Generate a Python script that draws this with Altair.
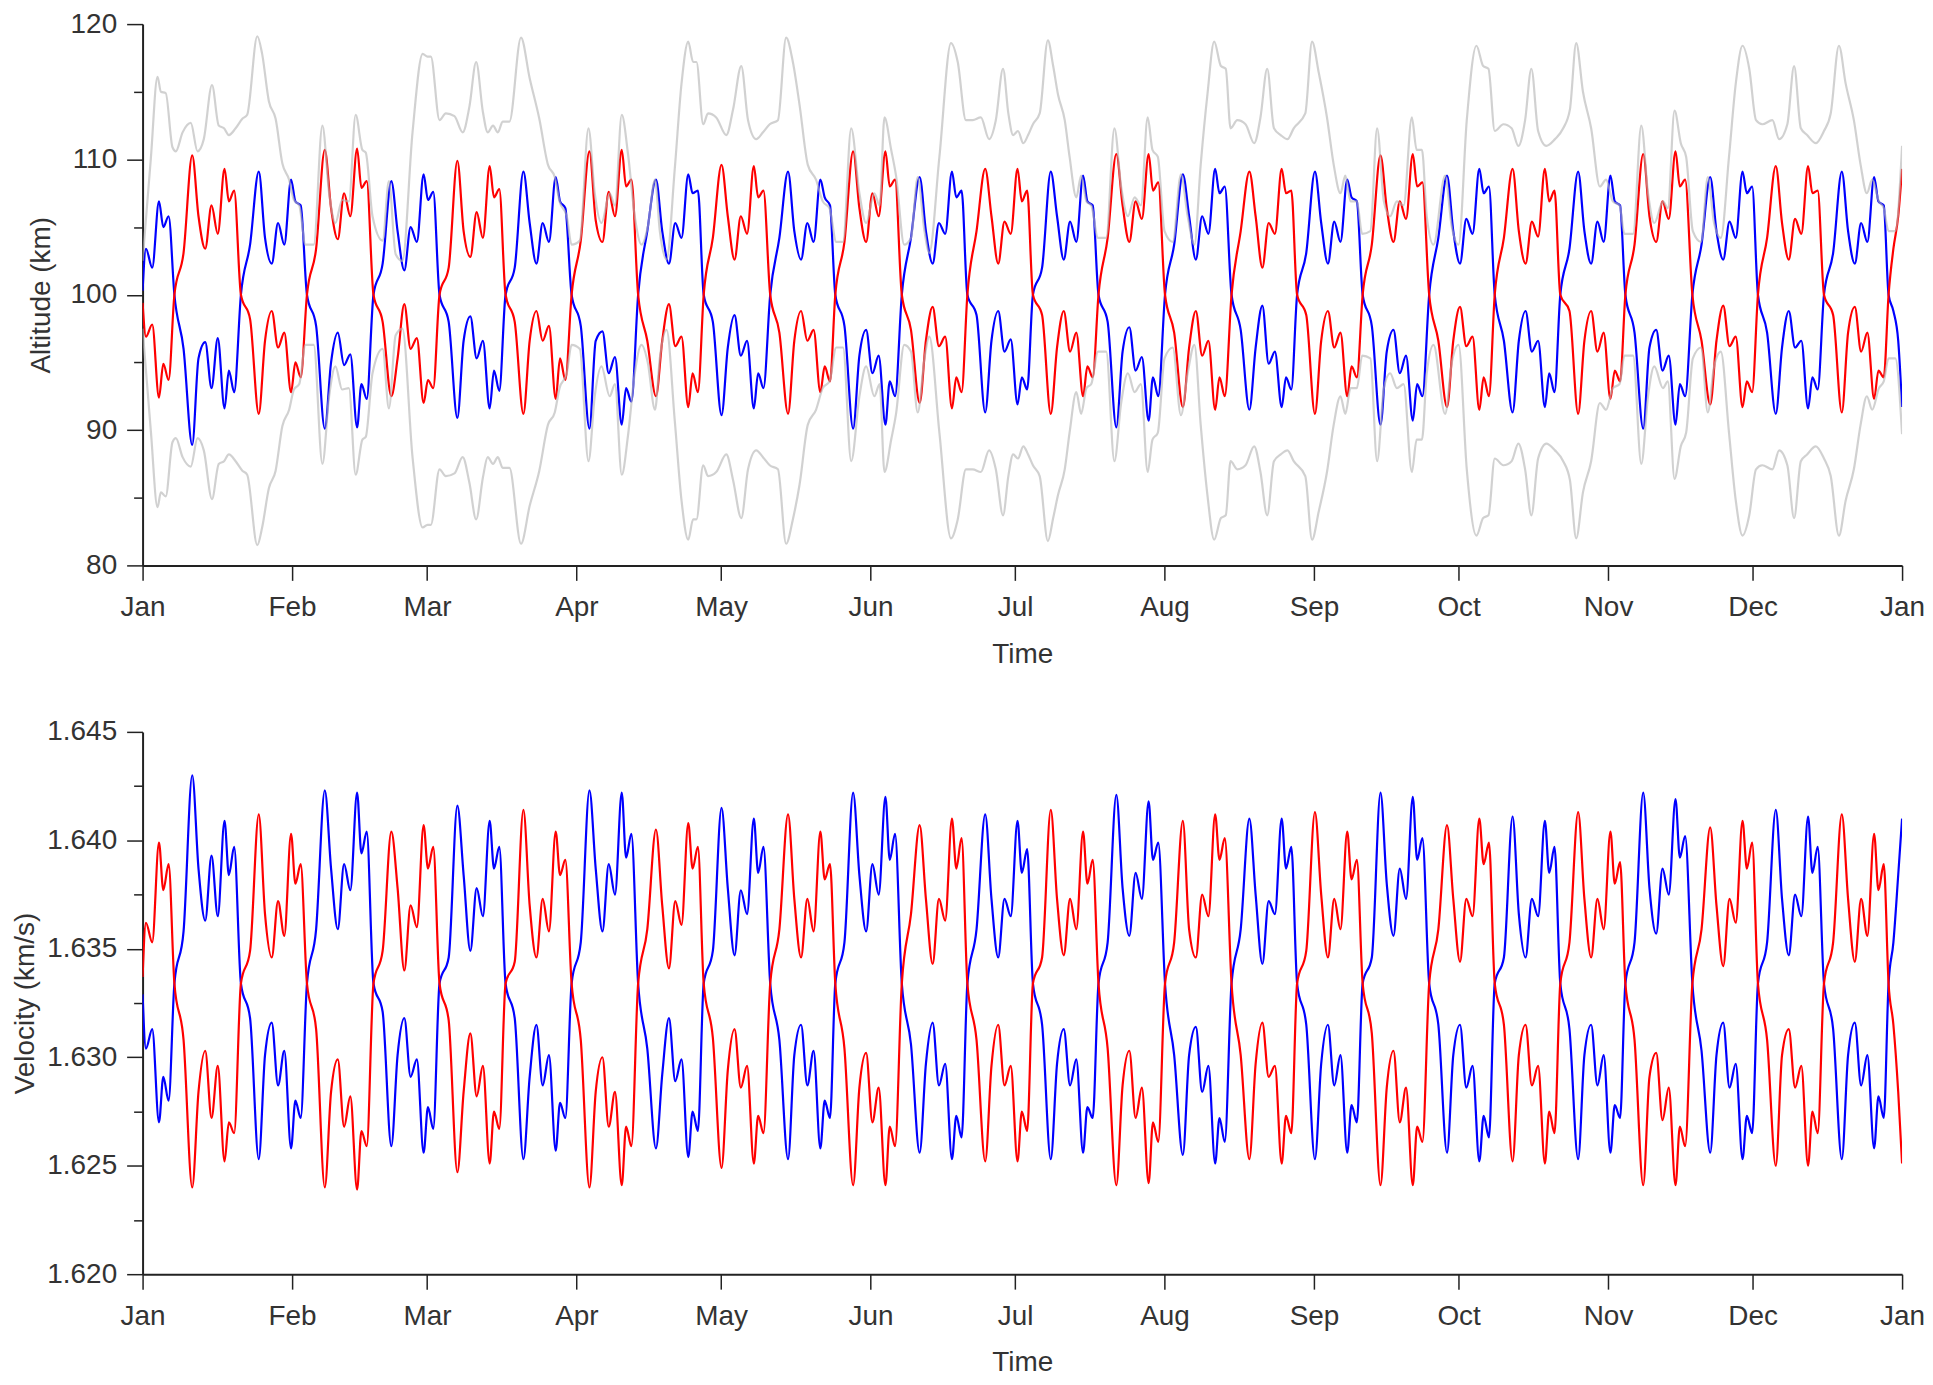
import altair as alt
import pandas as pd

# ---------------- data ----------------
# days (from 1 Jan) where the blue and red curves cross
CROSS_DAYS = [6.6, 20.4, 34.1, 47.9, 61.6, 75.3, 89.0, 102.8, 116.4, 130.2, 143.7,
              157.5, 171.1, 184.7, 198.3, 212.1, 225.9, 239.5, 253.1, 266.9, 280.5,
              294.1, 307.6, 321.5, 335.1, 348.8, 362.2]
# days after each crossing at which the wiggle extremes were read
SEG_OFFSETS = [1.9, 3.7, 5.0, 6.4, 7.7, 9.0, 10.4, 11.3, 12.4]
CROSS_ALT = 100.0
CROSS_VEL = 1.6334
PRE_DAYS = [0.0, 0.7, 2.0, 3.4, 4.3, 5.4]
END_DAYS = [363.2, 364.2, 365.0]

ALT_BLUE_PRE = [100.3, 103.4, 102.0, 106.9, 105.0, 105.8]
ALT_RED_PRE = [99.4, 96.9, 97.8, 92.4, 94.9, 93.7]
ALT_BLUE_END = [98.8, 96.6, 91.7]
ALT_RED_END = [103.4, 105.8, 109.3]

ALT_BLUE_SEG = [
    [96.0, 88.9, 95.3, 96.5, 93.1, 96.8, 91.6, 94.4, 92.8],
    [103.7, 109.1, 104.2, 102.3, 105.3, 103.7, 108.5, 106.9, 106.6],
    [97.7, 90.1, 95.0, 97.2, 94.8, 95.6, 90.2, 93.4, 92.3],
    [102.3, 108.4, 104.7, 101.8, 105.0, 103.9, 108.9, 107.0, 107.6],
    [98.0, 90.9, 96.6, 98.4, 95.3, 96.6, 91.6, 94.4, 92.9],
    [102.0, 109.1, 105.3, 102.3, 105.3, 103.9, 108.7, 106.9, 106.4],
    [97.7, 90.1, 96.6, 97.3, 94.2, 95.4, 90.4, 93.1, 92.1],
    [104.7, 108.5, 104.7, 102.3, 105.3, 104.2, 108.9, 107.5, 107.7],
    [98.0, 91.1, 96.1, 98.5, 95.5, 96.6, 91.6, 94.2, 93.1],
    [104.2, 109.1, 104.7, 102.6, 105.3, 103.9, 108.5, 107.2, 106.6],
    [97.7, 90.1, 95.5, 97.4, 94.2, 95.5, 90.4, 93.6, 92.5],
    [104.2, 108.7, 104.7, 102.3, 105.3, 104.5, 109.1, 107.2, 107.7],
    [98.5, 91.3, 96.6, 98.8, 95.8, 96.7, 91.9, 93.9, 93.0],
    [102.0, 109.1, 105.8, 102.6, 105.4, 103.9, 108.8, 106.9, 106.6],
    [98.0, 90.2, 95.8, 97.6, 94.4, 95.4, 90.7, 93.9, 92.5],
    [103.7, 108.9, 105.8, 102.6, 105.8, 104.5, 109.3, 107.5, 108.0],
    [97.4, 91.5, 96.1, 99.2, 94.9, 95.8, 91.7, 93.9, 93.0],
    [103.1, 109.1, 105.3, 102.3, 105.4, 103.9, 108.5, 107.2, 106.9],
    [97.7, 90.4, 95.8, 97.4, 94.2, 95.5, 90.7, 93.4, 92.5],
    [104.2, 108.8, 104.7, 102.3, 105.6, 104.5, 109.3, 107.5, 108.0],
    [96.6, 91.3, 96.6, 98.8, 95.8, 96.6, 91.7, 94.2, 92.8],
    [103.4, 109.1, 104.7, 102.3, 105.4, 103.9, 108.8, 106.9, 106.6],
    [97.2, 90.1, 96.1, 97.4, 94.4, 95.5, 90.4, 93.4, 92.5],
    [103.7, 108.7, 104.7, 102.6, 105.4, 104.2, 109.1, 107.5, 108.0],
    [97.2, 91.2, 96.1, 98.8, 96.1, 96.6, 91.6, 93.9, 93.0],
    [103.1, 109.1, 104.7, 102.3, 105.3, 103.9, 108.7, 106.9, 106.6],
]

ALT_RED_SEG = [
    [103.1, 110.3, 105.8, 103.4, 106.6, 104.5, 109.3, 106.9, 107.7],
    [98.2, 91.2, 96.6, 98.8, 96.1, 97.2, 92.8, 95.0, 93.9],
    [103.4, 110.7, 106.4, 104.1, 107.5, 105.8, 110.8, 107.9, 108.4],
    [98.0, 92.5, 95.3, 99.3, 96.0, 96.8, 92.0, 93.7, 93.1],
    [102.0, 109.9, 104.7, 102.8, 106.1, 104.2, 109.5, 107.2, 107.8],
    [98.0, 91.2, 96.6, 98.8, 96.6, 97.7, 92.3, 95.3, 93.7],
    [104.0, 110.6, 105.5, 103.9, 107.6, 105.8, 110.7, 108.0, 108.5],
    [96.6, 92.5, 96.6, 99.3, 96.2, 96.9, 91.7, 94.2, 92.8],
    [104.2, 109.6, 105.8, 102.6, 105.8, 104.5, 109.5, 107.2, 107.7],
    [97.2, 91.2, 96.6, 98.8, 96.6, 97.4, 92.8, 94.7, 93.6],
    [103.9, 110.6, 106.4, 103.9, 107.5, 105.8, 110.6, 108.0, 108.5],
    [97.4, 92.0, 96.6, 99.1, 96.2, 96.9, 91.6, 93.9, 92.8],
    [104.7, 109.3, 105.8, 102.3, 105.4, 104.5, 109.3, 106.9, 107.7],
    [98.5, 91.2, 96.1, 98.8, 95.8, 97.2, 92.5, 94.7, 93.9],
    [104.2, 110.4, 106.6, 103.9, 106.9, 105.6, 110.4, 107.7, 108.3],
    [97.2, 91.7, 96.1, 98.8, 95.5, 96.6, 91.5, 93.9, 92.5],
    [104.7, 109.1, 105.8, 102.0, 105.3, 104.5, 109.3, 107.5, 107.7],
    [98.5, 91.2, 96.6, 98.8, 96.1, 97.2, 92.5, 94.7, 93.9],
    [103.7, 110.3, 106.4, 103.9, 106.9, 105.6, 110.4, 108.0, 108.3],
    [96.6, 91.7, 96.6, 99.1, 96.2, 96.9, 91.5, 93.9, 92.5],
    [104.2, 109.3, 104.7, 102.3, 105.4, 104.3, 109.3, 106.9, 107.7],
    [98.8, 91.2, 96.6, 98.8, 95.8, 97.2, 92.3, 94.4, 93.6],
    [103.7, 110.4, 105.8, 103.9, 106.9, 105.6, 110.6, 108.0, 108.5],
    [96.6, 91.9, 96.6, 99.2, 96.2, 96.9, 91.7, 93.6, 92.8],
    [104.2, 109.5, 105.3, 102.6, 105.6, 104.5, 109.5, 107.5, 107.7],
    [98.5, 91.3, 97.2, 99.1, 95.8, 97.2, 92.3, 94.4, 93.9],
]

VEL_BLUE_PRE = [1.6329, 1.6304, 1.6313, 1.6270, 1.6291, 1.6280]
VEL_RED_PRE = [1.6337, 1.6362, 1.6353, 1.6399, 1.6377, 1.6389]
VEL_BLUE_END = [1.6353, 1.6384, 1.6410]
VEL_RED_END = [1.6315, 1.6284, 1.6251]

VEL_BLUE_SEG = [
    [1.6358, 1.6430, 1.6387, 1.6363, 1.6393, 1.6365, 1.6409, 1.6384, 1.6397],
    [1.6318, 1.6253, 1.6301, 1.6316, 1.6287, 1.6303, 1.6258, 1.6280, 1.6272],
    [1.6359, 1.6423, 1.6387, 1.6359, 1.6389, 1.6377, 1.6422, 1.6394, 1.6404],
    [1.6321, 1.6259, 1.6301, 1.6318, 1.6291, 1.6299, 1.6256, 1.6277, 1.6267],
    [1.6346, 1.6416, 1.6384, 1.6349, 1.6378, 1.6365, 1.6409, 1.6387, 1.6397],
    [1.6318, 1.6253, 1.6291, 1.6315, 1.6287, 1.6301, 1.6257, 1.6279, 1.6272],
    [1.6353, 1.6423, 1.6387, 1.6358, 1.6389, 1.6375, 1.6422, 1.6392, 1.6403],
    [1.6304, 1.6258, 1.6292, 1.6318, 1.6289, 1.6299, 1.6254, 1.6275, 1.6266],
    [1.6349, 1.6415, 1.6378, 1.6347, 1.6377, 1.6366, 1.6410, 1.6385, 1.6397],
    [1.6308, 1.6253, 1.6301, 1.6315, 1.6287, 1.6303, 1.6258, 1.6280, 1.6272],
    [1.6353, 1.6422, 1.6384, 1.6358, 1.6389, 1.6375, 1.6420, 1.6391, 1.6403],
    [1.6306, 1.6256, 1.6297, 1.6316, 1.6287, 1.6297, 1.6253, 1.6273, 1.6263],
    [1.6359, 1.6412, 1.6373, 1.6346, 1.6373, 1.6365, 1.6409, 1.6385, 1.6396],
    [1.6315, 1.6253, 1.6297, 1.6313, 1.6287, 1.6299, 1.6256, 1.6277, 1.6272],
    [1.6353, 1.6421, 1.6378, 1.6356, 1.6385, 1.6373, 1.6418, 1.6391, 1.6399],
    [1.6301, 1.6255, 1.6301, 1.6314, 1.6284, 1.6296, 1.6251, 1.6272, 1.6261],
    [1.6359, 1.6410, 1.6375, 1.6343, 1.6372, 1.6366, 1.6410, 1.6387, 1.6397],
    [1.6315, 1.6253, 1.6297, 1.6315, 1.6287, 1.6301, 1.6256, 1.6278, 1.6270],
    [1.6346, 1.6422, 1.6380, 1.6356, 1.6387, 1.6373, 1.6420, 1.6391, 1.6401],
    [1.6315, 1.6256, 1.6301, 1.6315, 1.6286, 1.6296, 1.6252, 1.6273, 1.6263],
    [1.6346, 1.6411, 1.6366, 1.6346, 1.6373, 1.6365, 1.6409, 1.6385, 1.6397],
    [1.6313, 1.6253, 1.6301, 1.6315, 1.6287, 1.6301, 1.6256, 1.6278, 1.6272],
    [1.6353, 1.6422, 1.6378, 1.6357, 1.6387, 1.6375, 1.6419, 1.6392, 1.6402],
    [1.6303, 1.6256, 1.6301, 1.6316, 1.6286, 1.6297, 1.6253, 1.6273, 1.6265],
    [1.6353, 1.6414, 1.6373, 1.6347, 1.6375, 1.6365, 1.6411, 1.6385, 1.6397],
    [1.6313, 1.6253, 1.6301, 1.6316, 1.6287, 1.6301, 1.6258, 1.6282, 1.6272],
]

VEL_RED_SEG = [
    [1.6308, 1.6240, 1.6284, 1.6303, 1.6272, 1.6296, 1.6252, 1.6270, 1.6265],
    [1.6349, 1.6412, 1.6366, 1.6346, 1.6372, 1.6356, 1.6403, 1.6380, 1.6389],
    [1.6313, 1.6240, 1.6284, 1.6299, 1.6268, 1.6282, 1.6239, 1.6266, 1.6259],
    [1.6349, 1.6404, 1.6378, 1.6340, 1.6370, 1.6360, 1.6407, 1.6387, 1.6397],
    [1.6317, 1.6247, 1.6284, 1.6311, 1.6282, 1.6296, 1.6251, 1.6275, 1.6267],
    [1.6344, 1.6414, 1.6370, 1.6346, 1.6373, 1.6358, 1.6404, 1.6384, 1.6391],
    [1.6308, 1.6240, 1.6284, 1.6300, 1.6268, 1.6284, 1.6241, 1.6268, 1.6259],
    [1.6359, 1.6405, 1.6370, 1.6341, 1.6372, 1.6361, 1.6408, 1.6387, 1.6397],
    [1.6309, 1.6249, 1.6294, 1.6313, 1.6286, 1.6296, 1.6251, 1.6273, 1.6265],
    [1.6359, 1.6412, 1.6373, 1.6346, 1.6373, 1.6358, 1.6404, 1.6382, 1.6389],
    [1.6304, 1.6241, 1.6286, 1.6302, 1.6270, 1.6286, 1.6241, 1.6268, 1.6259],
    [1.6366, 1.6407, 1.6373, 1.6343, 1.6373, 1.6363, 1.6410, 1.6387, 1.6401],
    [1.6308, 1.6252, 1.6296, 1.6315, 1.6287, 1.6296, 1.6252, 1.6275, 1.6266],
    [1.6346, 1.6414, 1.6373, 1.6347, 1.6373, 1.6359, 1.6404, 1.6380, 1.6391],
    [1.6304, 1.6241, 1.6287, 1.6303, 1.6272, 1.6286, 1.6242, 1.6270, 1.6261],
    [1.6353, 1.6409, 1.6359, 1.6346, 1.6375, 1.6365, 1.6412, 1.6391, 1.6401],
    [1.6301, 1.6253, 1.6297, 1.6316, 1.6291, 1.6296, 1.6251, 1.6273, 1.6265],
    [1.6349, 1.6413, 1.6375, 1.6346, 1.6373, 1.6359, 1.6404, 1.6382, 1.6391],
    [1.6311, 1.6241, 1.6286, 1.6303, 1.6270, 1.6286, 1.6241, 1.6268, 1.6261],
    [1.6359, 1.6407, 1.6373, 1.6344, 1.6373, 1.6365, 1.6410, 1.6389, 1.6399],
    [1.6315, 1.6252, 1.6301, 1.6315, 1.6287, 1.6296, 1.6251, 1.6275, 1.6265],
    [1.6353, 1.6413, 1.6373, 1.6346, 1.6373, 1.6359, 1.6404, 1.6380, 1.6390],
    [1.6308, 1.6241, 1.6291, 1.6302, 1.6271, 1.6286, 1.6241, 1.6268, 1.6259],
    [1.6359, 1.6406, 1.6370, 1.6342, 1.6373, 1.6362, 1.6409, 1.6387, 1.6399],
    [1.6308, 1.6250, 1.6301, 1.6313, 1.6286, 1.6296, 1.6250, 1.6275, 1.6265],
    [1.6353, 1.6412, 1.6373, 1.6344, 1.6373, 1.6356, 1.6403, 1.6377, 1.6389],
]

# light grey envelope curves (upper and lower), drawn over the coloured ones
GRAY_DAYS = [
    0.0, 1.7, 3.1, 3.8, 4.8, 6.2, 6.9, 8.3, 10.0, 11.4, 12.7, 14.4, 15.8, 16.9, 17.9, 19.3,
    20.7, 21.7, 23.8, 24.8, 26.2, 27.6, 29.0, 30.4, 31.4, 32.5, 33.8, 35.5, 37.3, 38.7, 40.0,
    41.4, 42.8, 44.2, 45.6, 46.3, 47.7, 49.8, 51.1, 52.5, 53.9, 56.0, 58.1, 59.1, 59.8, 61.6,
    62.9, 64.7, 66.4, 67.8, 69.2, 70.6, 71.6, 72.7, 73.7, 74.7, 76.1, 78.5, 80.3, 82.3, 84.1,
    85.5, 86.5, 88.0, 89.0, 90.7, 92.5, 93.8, 95.2, 96.9, 98.0, 99.4, 100.7, 102.1, 103.5,
    104.8, 106.3, 107.3, 108.7, 110.4, 111.8, 113.2, 114.2, 114.9, 116.3, 117.3, 119.0, 121.1,
    122.5, 124.2, 125.6, 127.3, 128.7, 130.1, 131.8, 133.5, 134.9, 136.3, 138.0, 139.7, 141.1,
    142.5, 143.9, 145.3, 147.0, 148.7, 150.1, 151.8, 152.9, 153.9, 155.3, 156.3, 158.0, 159.4,
    160.8, 162.2, 163.2, 165.3, 167.7, 169.1, 170.8, 172.2, 173.9, 175.6, 177.0, 178.5, 179.6,
    180.6, 181.6, 182.7, 183.7, 184.7, 186.1, 187.8, 188.9, 189.9, 191.3, 192.3, 193.7, 194.7,
    195.8, 196.8, 198.2, 199.9, 201.6, 203.0, 204.4, 205.8, 207.1, 208.5, 209.5, 210.6, 212.0,
    213.7, 215.4, 216.8, 218.2, 219.5, 220.9, 222.3, 223.7, 224.7, 225.7, 227.1, 228.8, 230.6,
    231.9, 233.3, 234.7, 236.1, 237.5, 238.8, 241.2, 242.6, 244.0, 245.7, 247.1, 248.5, 249.5,
    250.6, 251.9, 253.0, 254.7, 256.1, 257.5, 258.8, 260.2, 261.6, 263.3, 264.3, 265.4, 266.4,
    267.8, 270.2, 271.6, 273.0, 274.7, 276.7, 278.1, 279.2, 280.5, 282.3, 284.0, 285.4, 286.8,
    288.1, 289.5, 291.2, 293.0, 294.7, 296.1, 297.4, 298.8, 300.5, 302.3, 303.6, 305.0, 306.4,
    307.4, 309.2, 310.9, 312.3, 313.6, 315.4, 316.4, 317.8, 319.1, 320.2, 321.6, 323.3, 324.7,
    326.0, 327.4, 329.1, 330.5, 331.9, 333.3, 334.7, 336.0, 338.1, 339.5, 341.2, 342.6, 344.0,
    345.3, 347.1, 348.8, 350.2, 351.9, 353.3, 355.0, 356.4, 357.7, 358.8, 360.2, 361.2, 362.2,
    363.6, 365.0,
]
GRAY_UP = [
    102.5, 110.0, 116.1, 115.0, 114.9, 110.9, 110.6, 112.0, 112.7, 110.6, 111.5, 115.5, 112.5,
    112.3, 111.8, 112.3, 113.0, 113.3, 119.1, 117.8, 114.3, 113.0, 109.7, 108.5, 107.0, 106.6,
    103.7, 103.7, 112.5, 107.5, 105.3, 107.0, 106.9, 113.3, 110.7, 110.5, 105.8, 104.0, 108.4,
    103.0, 102.5, 112.0, 117.8, 117.6, 117.6, 112.9, 113.4, 113.2, 112.0, 113.9, 117.2, 113.5,
    112.0, 112.5, 112.0, 112.8, 112.8, 119.0, 116.0, 113.0, 109.6, 108.7, 106.9, 105.8, 103.7,
    104.0, 112.3, 107.5, 105.3, 107.5, 106.6, 113.3, 110.4, 105.8, 103.7, 105.0, 108.5, 104.7,
    102.6, 109.3, 115.6, 118.7, 117.2, 117.2, 112.6, 113.4, 113.1, 111.8, 113.7, 116.9, 112.9,
    111.5, 112.0, 112.6, 112.9, 119.0, 117.2, 114.0, 109.6, 108.5, 106.9, 106.4, 103.9, 103.9,
    112.3, 107.5, 105.3, 107.5, 106.6, 113.1, 110.7, 108.8, 103.7, 104.2, 108.7, 104.7, 103.1,
    110.2, 118.6, 117.2, 112.9, 112.9, 113.1, 111.5, 112.9, 116.7, 113.4, 111.8, 112.1, 111.2,
    111.8, 112.6, 113.4, 118.8, 116.9, 114.8, 112.9, 110.2, 107.2, 108.8, 106.9, 106.6, 104.2,
    104.2, 112.3, 108.0, 105.8, 107.2, 106.6, 113.1, 110.7, 110.2, 104.7, 103.9, 108.9, 105.8,
    103.7, 109.6, 114.8, 118.7, 116.9, 116.7, 112.3, 112.9, 112.6, 111.2, 113.1, 116.7, 112.3,
    111.8, 111.5, 112.3, 113.4, 118.7, 116.4, 113.1, 109.6, 107.5, 108.8, 106.9, 106.9, 104.5,
    104.7, 112.3, 106.9, 105.8, 106.9, 106.6, 113.1, 110.7, 110.7, 105.8, 103.7, 108.8, 105.0,
    103.7, 112.9, 118.4, 116.9, 116.7, 112.1, 112.6, 112.3, 111.0, 112.9, 116.7, 112.1, 111.0,
    111.5, 112.3, 113.7, 118.6, 115.0, 112.3, 108.0, 108.5, 106.9, 106.6, 104.5, 104.5, 112.5,
    107.5, 105.3, 106.9, 106.4, 113.6, 111.2, 110.2, 104.7, 103.9, 108.7, 105.3, 104.2, 110.2,
    115.6, 118.4, 116.7, 112.9, 112.6, 112.9, 111.5, 112.6, 116.9, 112.3, 111.8, 111.2, 112.1,
    113.4, 118.4, 115.6, 112.9, 109.6, 107.5, 108.5, 106.9, 106.4, 104.7, 104.7, 111.0,
]
GRAY_LO = [
    97.5, 90.0, 84.3, 85.4, 85.1, 89.1, 89.4, 88.0, 87.3, 89.4, 88.5, 84.9, 87.5,
    87.7, 88.2, 87.7, 87.0, 86.7, 81.5, 82.8, 85.7, 87.0, 90.3, 91.5, 93.0, 93.4,
    96.3, 96.3, 87.5, 92.5, 94.7, 93.0, 93.1, 86.7, 89.3, 89.5, 94.2, 96.0, 91.6,
    97.0, 97.5, 88.0, 82.8, 83.0, 83.0, 87.1, 86.6, 86.8, 88.0, 86.1, 83.4, 86.5,
    88.0, 87.5, 88.0, 87.2, 87.2, 81.6, 84.4, 87.0, 90.4, 91.3, 93.1, 94.2, 96.3,
    96.0, 87.7, 92.5, 94.7, 92.5, 93.4, 86.7, 89.6, 94.2, 96.3, 95.0, 91.5, 95.3,
    97.4, 90.7, 84.8, 81.9, 83.4, 83.4, 87.4, 86.6, 86.9, 88.2, 86.3, 83.5, 87.1,
    88.5, 88.0, 87.4, 87.1, 81.6, 83.4, 86.0, 90.4, 91.5, 93.1, 93.6, 96.1, 96.1,
    87.7, 92.5, 94.7, 92.5, 93.4, 86.9, 89.3, 91.2, 96.3, 95.8, 91.3, 95.3, 96.9,
    89.8, 82.0, 83.4, 87.1, 87.1, 86.9, 88.5, 87.1, 83.7, 86.6, 88.2, 87.9, 88.8,
    88.2, 87.4, 86.6, 81.8, 83.5, 85.2, 87.1, 89.8, 92.8, 91.2, 93.1, 93.4, 95.8,
    95.8, 87.7, 92.0, 94.2, 92.8, 93.4, 86.9, 89.3, 89.8, 95.3, 96.1, 91.1, 94.2,
    96.3, 90.4, 85.2, 81.9, 83.5, 83.7, 87.7, 87.1, 87.4, 88.8, 86.9, 83.7, 87.7,
    88.2, 88.5, 87.7, 86.6, 81.9, 84.0, 86.9, 90.4, 92.5, 91.2, 93.1, 93.1, 95.5,
    95.3, 87.7, 93.1, 94.2, 93.1, 93.4, 86.9, 89.3, 89.3, 94.2, 96.3, 91.2, 95.0,
    96.3, 87.1, 82.2, 83.5, 83.7, 87.9, 87.4, 87.7, 89.0, 87.1, 83.7, 87.9, 89.0,
    88.5, 87.7, 86.3, 82.0, 85.4, 87.7, 92.0, 91.5, 93.1, 93.4, 95.5, 95.5, 87.5,
    92.5, 94.7, 93.1, 93.6, 86.4, 88.8, 89.8, 95.3, 96.1, 91.3, 94.7, 95.8, 89.8,
    84.8, 82.2, 83.7, 87.1, 87.4, 87.1, 88.5, 87.4, 83.5, 87.7, 88.2, 88.8, 87.9,
    86.6, 82.2, 84.8, 87.1, 90.4, 92.5, 91.5, 93.1, 93.6, 95.3, 95.3, 89.7,
]

# ---------------- build tables ----------------
BASE = pd.Timestamp("2023-01-01")


def build(pre, segs, end, cross_val):
    days, vals = list(PRE_DAYS), list(pre)
    for k, c in enumerate(CROSS_DAYS):
        days.append(c)
        vals.append(cross_val)
        if k < len(segs):
            for off, v in zip(SEG_OFFSETS, segs[k]):
                days.append(c + off)
                vals.append(v)
    days += END_DAYS
    vals += end
    return pd.DataFrame({"date": BASE + pd.to_timedelta(days, unit="D"), "value": vals})


df_alt_blue = build(ALT_BLUE_PRE, ALT_BLUE_SEG, ALT_BLUE_END, CROSS_ALT)
df_alt_red = build(ALT_RED_PRE, ALT_RED_SEG, ALT_RED_END, CROSS_ALT)
df_vel_blue = build(VEL_BLUE_PRE, VEL_BLUE_SEG, VEL_BLUE_END, CROSS_VEL)
df_vel_red = build(VEL_RED_PRE, VEL_RED_SEG, VEL_RED_END, CROSS_VEL)
gdates = BASE + pd.to_timedelta(GRAY_DAYS, unit="D")
df_gray = pd.concat([
    pd.DataFrame({"date": gdates, "value": GRAY_UP, "series": "upper"}),
    pd.DataFrame({"date": gdates, "value": GRAY_LO, "series": "lower"}),
])

# ---------------- chart ----------------
FONT = "Liberation Sans"
TEXT = "#333333"
x_values = [alt.DateTime(year=2023, month=m, date=1) for m in range(1, 13)] + [
    alt.DateTime(year=2024, month=1, date=1)]
x_scale = alt.Scale(domain=[alt.DateTime(year=2023, month=1, date=1),
                            alt.DateTime(year=2024, month=1, date=1)])
x_axis = alt.Axis(values=x_values, format="%b", labelFlush=False, tickSize=15,
                  labelPadding=13, titlePadding=19, grid=False)
x_enc = alt.X("date:T", scale=x_scale, axis=x_axis, title="Time")

alt_test = "datum.value % 10 === 0"
alt_axis = alt.Axis(
    values=[80, 85, 90, 95, 100, 105, 110, 115, 120],
    labelExpr=alt_test + " ? datum.label : ''",
    tickSize={"condition": {"test": alt_test, "value": 16}, "value": 9},
    labelPadding=10, titlePadding=15, labelFlush=False, grid=False)
y_alt = alt.Y("value:Q", scale=alt.Scale(domain=[80, 120], nice=False, zero=False),
              axis=alt_axis, title="Altitude (km)")

vel_test = "abs(datum.value * 200 - round(datum.value * 200)) < 0.05"
vel_axis = alt.Axis(
    values=[1.620, 1.6225, 1.625, 1.6275, 1.630, 1.6325, 1.635, 1.6375, 1.640, 1.6425, 1.645],
    format=".3f",
    labelExpr=vel_test + " ? datum.label : ''",
    tickSize={"condition": {"test": vel_test, "value": 16}, "value": 9},
    labelPadding=10, titlePadding=7, labelFlush=False, grid=False)
y_vel = alt.Y("value:Q", scale=alt.Scale(domain=[1.620, 1.645], nice=False, zero=False),
              axis=vel_axis, title="Velocity (km/s)")

LW = 2.2


def colored(df, color, y):
    return alt.Chart(df).mark_line(color=color, strokeWidth=LW, interpolate="monotone",
                                   clip=True).encode(x=x_enc, y=y)


gray = alt.Chart(df_gray).mark_line(color="#b4b4b4", opacity=0.62, strokeWidth=LW,
                                    interpolate="monotone", clip=True).encode(
    x=x_enc, y=y_alt, detail="series:N")

top = alt.layer(
    colored(df_alt_blue, "#0000ff", y_alt),
    colored(df_alt_red, "#ff0000", y_alt),
    gray,
).properties(width=1765, height=543)

bottom = alt.layer(
    colored(df_vel_blue, "#0000ff", y_vel),
    colored(df_vel_red, "#ff0000", y_vel),
).properties(width=1765, height=544)

chart = alt.vconcat(top, bottom, spacing=50).properties(
    padding={"left": 3, "top": 0, "right": 0, "bottom": 0}
).configure_axis(
    labelFont=FONT, titleFont=FONT, labelFontSize=28, titleFontSize=28,
    labelColor=TEXT, titleColor=TEXT, titleFontWeight="normal",
    domainColor="#222222", tickColor="#222222", domainWidth=2, tickWidth=1.5,
).configure_view(strokeWidth=0)

chart.save("out.html", embed_options={"renderer": "svg", "actions": False})
